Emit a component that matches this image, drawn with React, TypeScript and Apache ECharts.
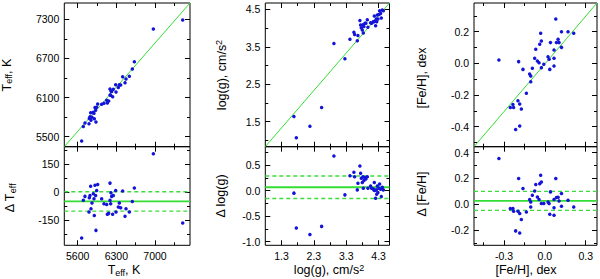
import React, { useEffect, useRef } from 'react';
import * as echarts from 'echarts';

// ---------- data ----------
// Column 1: effective temperature (K)
const teffRef = [6970, 5702, 5732, 5811, 5823, 5835, 5805, 5841, 5859, 5883, 5895, 5913, 5925, 5944, 5901, 5962, 5931, 6034, 6076, 6125, 6137, 6161, 6185, 6203, 6215, 6185, 6197, 6245, 6233, 6288, 6294, 6336, 6354, 6378, 6414, 6457, 6475, 6535, 6589, 6626, 5672, 7501];
const teffMeas = [7150, 5658, 5709, 5781, 5805, 5866, 5698, 5752, 5800, 5874, 5859, 5949, 5907, 5953, 5776, 6003, 5726, 5998, 6014, 6059, 6018, 6047, 6233, 6199, 6192, 6141, 6135, 6227, 6114, 6297, 6187, 6256, 6295, 6294, 6420, 6327, 6386, 6428, 6539, 6648, 5434, 7290];
const teffDelta = [205, -44, -23, -30, -18, 31, -107, -89, -59, -9, -36, 36, -18, 9, -125, 41, -205, -36, -62, -66, -119, -114, 48, -4, -23, -44, -62, -18, -119, 9, -107, -80, -59, -84, 6, -130, -89, -107, -50, 22, -246, -166];
const teffStats = [-50, 52]; // mean, sigma

// Column 2: log(g)
const loggRef = [1.684, 1.758, 2.178, 2.539, 2.919, 3.258, 3.413, 3.536, 3.558, 3.641, 3.66, 3.721, 3.743, 3.764, 3.795, 3.814, 3.845, 3.876, 3.906, 3.95, 3.826, 3.968, 4.051, 4.082, 4.135, 4.166, 4.153, 4.175, 4.206, 4.227, 4.258, 4.277, 4.308, 4.329, 4.36, 4.382, 4.413, 4.444, 4.24];
const loggMeas = [1.64, 1.07, 1.38, 1.88, 3.59, 3.18, 3.70, 3.89, 3.83, 3.66, 3.80, 4.20, 4.08, 4.01, 3.95, 4.09, 4.04, 4.13, 4.13, 4.22, 3.87, 4.02, 4.14, 4.13, 4.17, 4.32, 4.17, 4.18, 4.06, 4.24, 4.35, 4.24, 4.36, 4.46, 4.39, 4.27, 4.48, 4.46, 4.17];
const loggDelta = [-0.05, -0.73, -0.86, -0.70, 0.675, -0.084, 0.292, 0.358, 0.272, 0.014, 0.144, 0.479, 0.338, 0.241, 0.156, 0.272, 0.195, 0.253, 0.228, 0.272, 0.047, 0.047, 0.091, 0.047, 0.033, 0.156, 0.014, 0.0, -0.149, 0.014, 0.091, -0.038, 0.047, 0.130, 0.027, -0.116, 0.066, 0.014, -0.07];
const loggStats = [0.065, 0.22];

// Column 3: [Fe/H]
const fehRef = [-0.338, -0.193, -0.161, -0.136, -0.254, -0.230, -0.235, -0.198, -0.185, -0.173, -0.215, -0.185, -0.112, -0.104, -0.104, -0.092, -0.067, -0.075, -0.055, -0.043, -0.038, -0.031, -0.026, -0.026, -0.008, 0.023, 0.036, 0.031, 0.041, 0.067, 0.067, 0.067, 0.080, 0.085, 0.097, 0.104, 0.122, 0.122, 0.170, 0.212];
const fehMeas = [0.021, 0.011, -0.038, -0.189, -0.278, -0.278, -0.259, -0.236, -0.257, -0.288, -0.417, -0.396, -0.067, -0.080, -0.116, -0.031, 0.089, 0.032, 0.015, 0.004, 0.120, 0.190, 0.141, -0.027, -0.006, 0.042, -0.038, 0.026, 0.131, 0.032, 0.084, -0.017, 0.280, 0.131, 0.152, 0.131, 0.200, 0.101, 0.200, 0.190];
const fehDelta = [0.355, 0.200, 0.122, -0.060, -0.034, -0.054, -0.034, -0.054, -0.072, -0.119, -0.207, -0.223, 0.036, 0.018, -0.021, 0.070, 0.153, 0.103, 0.057, 0.036, 0.160, 0.225, 0.173, 0.005, 0.005, 0.018, -0.078, 0.005, 0.096, -0.028, 0.036, -0.085, 0.200, 0.052, 0.055, 0.026, 0.083, -0.016, 0.031, -0.021];
const fehStats = [0.026, 0.074];

// tick values
const teffXMajor = [5600, 6300, 7000];
const teffXMinor = [5950, 6650, 7350];
const teffYMajor = [5500, 6100, 6700, 7300];
const teffYMinor = [5800, 6400, 7000];
const teffDMajor = [-150, 0, 150];
const teffDMinor = [-225, -75, 75, 225];
const loggXMajor = [1.3, 2.3, 3.3, 4.3];
const loggXMinor = [1.8, 2.8, 3.8];
const loggYMajor = [1.5, 2.5, 3.5, 4.5];
const loggYMinor = [1.0, 2.0, 3.0, 4.0];
const loggDMajor = [-1.0, -0.5, 0.0, 0.5];
const loggDMinor = [-0.75, -0.25, 0.25, 0.75];
const fehXMajor = [-0.3, 0.0, 0.3];
const fehXMinor = [-0.45, -0.15, 0.15];
const fehYMajor = [-0.4, -0.2, 0.0, 0.2];
const fehYMinor = [-0.5, -0.3, -0.1, 0.1, 0.3];
const fehDMajor = [-0.2, 0.0, 0.2, 0.4];
const fehDMinor = [-0.3, -0.1, 0.1, 0.3];

// ---------- style ----------
const FONT = 'Liberation Sans, Arial, Helvetica, sans-serif';
const BLUE = '#1414d8';
const GREEN = '#33dd33';
const GREEN_DASH = '#3ddc3d';
const TICK_FS = 10.5;
const TITLE_FS = 12.5;

const fmtInt = (v: number) => String(Math.round(v));
const fmt1 = (v: number) => (Math.abs(v) < 1e-9 ? 0 : v).toFixed(1);

function axisSet(kind: 'x' | 'y', gridIndex: number, min: number, max: number,
  majors: number[], minors: number[], labels: boolean, fmt: (v: number) => string) {
  const inR = (a: number[]) => a.filter(v => v >= min && v <= max);
  const pos = kind === 'x' ? ['bottom', 'top'] : ['left', 'right'];
  const out: any[] = [];
  for (const p of pos) {
    const sets: [number[], number, boolean][] = [[inR(majors), 5, true], [inR(minors), 3, false]];
    for (const [vals, len, isMajor] of sets) {
      out.push({
        type: 'value', gridIndex, position: p, min, max,
        axisLine: { show: false, onZero: false },
        splitLine: { show: false },
        minorTick: { show: false },
        axisTick: { show: true, inside: true, length: len, customValues: vals, lineStyle: { color: '#000', width: 1 } },
        axisLabel: {
          show: labels && isMajor && (p === 'bottom' || p === 'left'),
          customValues: inR(majors), formatter: fmt, margin: 5,
          fontSize: TICK_FS, color: '#000', fontFamily: FONT,
        },
      });
    }
  }
  return out;
}

const rich = {
  m: { fontSize: TITLE_FS, fontFamily: FONT, lineHeight: 14, fill: '#000' },
  s: { fontSize: 9, fontFamily: FONT, lineHeight: 5, verticalAlign: 'bottom', fill: '#000' },
  u: { fontSize: 9, fontFamily: FONT, lineHeight: 5, verticalAlign: 'top', fill: '#000' },
};

function title(text: string, x: number, y: number, rotated: boolean) {
  return {
    type: 'text', x, y, rotation: rotated ? Math.PI / 2 : 0,
    style: { text, rich, align: 'center', verticalAlign: 'middle', fill: '#000', fontSize: TITLE_FS, fontFamily: FONT },
  };
}

export default function App() {
  const ref = useRef<HTMLDivElement>(null);
  useEffect(() => {
    if (!ref.current) return;
    const chart = echarts.init(ref.current, undefined, { renderer: 'svg' });

    const cols = [
      { left: 64.3, width: 125.7, xr: [5358, 7633], yr: [5347, 7550], dr: [-285, 243],
        xM: teffXMajor, xm: teffXMinor, yM: teffYMajor, ym: teffYMinor, dM: teffDMajor, dm: teffDMinor,
        fx: fmtInt, fy: fmtInt, fd: fmtInt, ref: teffRef, meas: teffMeas, delta: teffDelta, stats: teffStats },
      { left: 265.3, width: 124.2, xr: [0.80, 4.635], yr: [0.833, 4.668], dr: [-1.07, 0.858],
        xM: loggXMajor, xm: loggXMinor, yM: loggYMajor, ym: loggYMinor, dM: loggDMajor, dm: loggDMinor,
        fx: fmt1, fy: fmt1, fd: fmt1, ref: loggRef, meas: loggMeas, delta: loggDelta, stats: loggStats },
      { left: 474, width: 123, xr: [-0.521, 0.383], yr: [-0.526, 0.381], dr: [-0.319, 0.447],
        xM: fehXMajor, xm: fehXMinor, yM: fehYMajor, ym: fehYMinor, dM: fehDMajor, dm: fehDMinor,
        fx: fmt1, fy: fmt1, fd: fmt1, ref: fehRef, meas: fehMeas, delta: fehDelta, stats: fehStats },
    ];

    const grid: any[] = [];
    const xAxis: any[] = [];
    const yAxis: any[] = [];
    const series: any[] = [];

    cols.forEach((c, ci) => {
      const gTop = ci * 2;
      const gBot = ci * 2 + 1;
      grid.push({ left: c.left, width: c.width, top: 3, height: 143.7, show: true, borderColor: '#000', borderWidth: 1 });
      grid.push({ left: c.left, width: c.width, top: 146.7, height: 98.6, show: true, borderColor: '#000', borderWidth: 1 });
      xAxis.push(...axisSet('x', gTop, c.xr[0], c.xr[1], c.xM, c.xm, false, c.fx));
      yAxis.push(...axisSet('y', gTop, c.yr[0], c.yr[1], c.yM, c.ym, true, c.fy));
      xAxis.push(...axisSet('x', gBot, c.xr[0], c.xr[1], c.xM, c.xm, true, c.fx));
      yAxis.push(...axisSet('y', gBot, c.dr[0], c.dr[1], c.dM, c.dm, true, c.fd));

      const [mean, sd] = c.stats;
      const xAx = gBot * 4;
      series.push({
        type: 'line', xAxisIndex: gTop * 4, yAxisIndex: gTop * 4,
        data: [[c.xr[0], c.yr[0]], [c.xr[1], c.yr[1]]],
        symbol: 'none', lineStyle: { color: GREEN, width: 1 }, z: 2, silent: true,
      });
      series.push({
        type: 'scatter', xAxisIndex: gTop * 4, yAxisIndex: gTop * 4,
        data: c.ref.map((x, i) => [x, c.meas[i]]),
        symbol: 'circle', symbolSize: 3.5, itemStyle: { color: BLUE, opacity: 1 }, z: 3,
      });
      // mean and ±sigma lines in the residual panel
      const hLine = (v: number, dashed: boolean) => ({
        type: 'line', xAxisIndex: xAx, yAxisIndex: xAx,
        data: [[c.xr[0], v], [c.xr[1], v]],
        symbol: 'none', silent: true, z: 2,
        lineStyle: dashed
          ? { color: GREEN_DASH, width: 1.4, type: [4, 3], opacity: 1 }
          : { color: GREEN, width: 1.8, type: 'solid', opacity: 1 },
      });
      series.push(hLine(mean, false));
      series.push(hLine(mean + sd, true));
      series.push(hLine(mean - sd, true));
      series.push({
        type: 'scatter', xAxisIndex: xAx, yAxisIndex: xAx,
        data: c.ref.map((x, i) => [x, c.delta[i]]),
        symbol: 'circle', symbolSize: 3.5, itemStyle: { color: BLUE, opacity: 1 }, z: 3,
      });
    });

    const graphic = [
      title('{m|T}{s|eff}{m|, K}', 6.5, 75, true),
      title('{m|Δ T}{s|eff}', 10, 198, true),
      title('{m|T}{s|eff}{m|, K}', 124, 270, false),
      title('{m|log(g), cm/s}{u|2}', 221.5, 75, true),
      title('{m|Δ log(g)}', 220.5, 196, true),
      title('{m|log(g), cm/s}{u|2}', 329, 270, false),
      title('{m|[Fe/H], dex}', 421.5, 78, true),
      title('{m|Δ [Fe/H]}', 421.5, 194, true),
      title('{m|[Fe/H], dex}', 526, 270, false),
    ];

    chart.setOption({
      animation: false,
      backgroundColor: '#fff',
      grid, xAxis, yAxis, series, graphic,
    });
    return () => chart.dispose();
  }, []);
  return <div ref={ref} style={{ position: 'fixed', left: 0, top: 0, width: 600, height: 279 }} />;
}
